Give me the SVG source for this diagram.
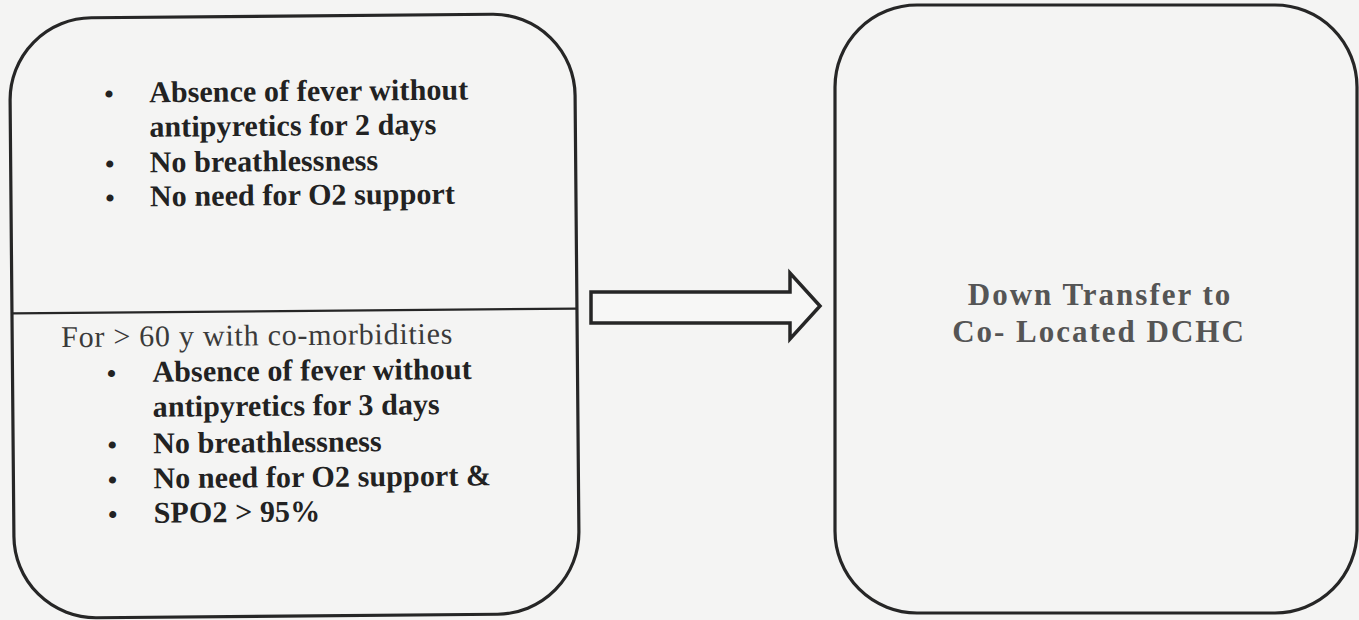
<svg xmlns="http://www.w3.org/2000/svg" width="1359" height="620" viewBox="0 0 1359 620">
  <style>
    .box { fill: none; stroke: #262626; stroke-width: 3.2; }
    .div { stroke: #262626; stroke-width: 2.2; }
    .b { font-family: "Liberation Serif", "Times New Roman", serif; font-weight: bold; font-size: 30px; letter-spacing: 0.1px; fill: #222; }
    .r { font-family: "Liberation Serif", "Times New Roman", serif; font-size: 30px; letter-spacing: 0.75px; fill: #3a3a3a; }
    .dot { font-family: "Liberation Serif", "Times New Roman", serif; font-weight: bold; font-size: 26px; fill: #222; text-anchor: middle; }
    .c { font-family: "Liberation Serif", "Times New Roman", serif; font-weight: bold; font-size: 31px; letter-spacing: 2px; fill: #555; text-anchor: middle; }
  </style>
  <rect x="0" y="0" width="1359" height="620" fill="#f4f4f3"/>

  <g id="criteria" transform="rotate(-0.5 294 316)">
    <rect class="box" x="12" y="16" width="565" height="600" rx="82" ry="82"/>
    <line class="div" x1="12" y1="311" x2="577" y2="311"/>
    <g id="criteria-general">
      <text class="dot" x="111" y="101">•</text>
      <text class="b" x="151" y="101">Absence of fever without</text>
      <text class="b" x="151" y="135.5">antipyretics for 2 days</text>
      <text class="dot" x="111" y="171">•</text>
      <text class="b" x="151" y="171">No breathlessness</text>
      <text class="dot" x="111" y="205">•</text>
      <text class="b" x="151" y="205">No need for O2 support</text>
    </g>
    <g id="criteria-elderly">
      <text class="r" x="61" y="345">For &gt; 60 y with co-morbidities</text>
      <text class="dot" x="111" y="380.5">•</text>
      <text class="b" x="152" y="380.5">Absence of fever without</text>
      <text class="b" x="152" y="415.5">antipyretics for 3 days</text>
      <text class="dot" x="111" y="452">•</text>
      <text class="b" x="152" y="452">No breathlessness</text>
      <text class="dot" x="111" y="487">•</text>
      <text class="b" x="152" y="487">No need for O2 support &amp;</text>
      <text class="dot" x="111" y="521.5">•</text>
      <text class="b" x="152" y="521.5">SPO2 &gt; 95%</text>
    </g>
  </g>

  <g id="connectors">
    <path d="M591 292 L790 292 L790 273 L820 306 L790 339 L790 323 L591 323 Z" fill="#f7f7f6" stroke="#262626" stroke-width="3.5" stroke-linejoin="miter"/>
  </g>

  <g id="down-transfer">
    <rect class="box" x="835" y="5" width="522" height="608" rx="82" ry="82"/>
    <text class="c" x="1100" y="305">Down Transfer to</text>
    <text class="c" x="1099" y="342">Co- Located DCHC</text>
  </g>
</svg>
